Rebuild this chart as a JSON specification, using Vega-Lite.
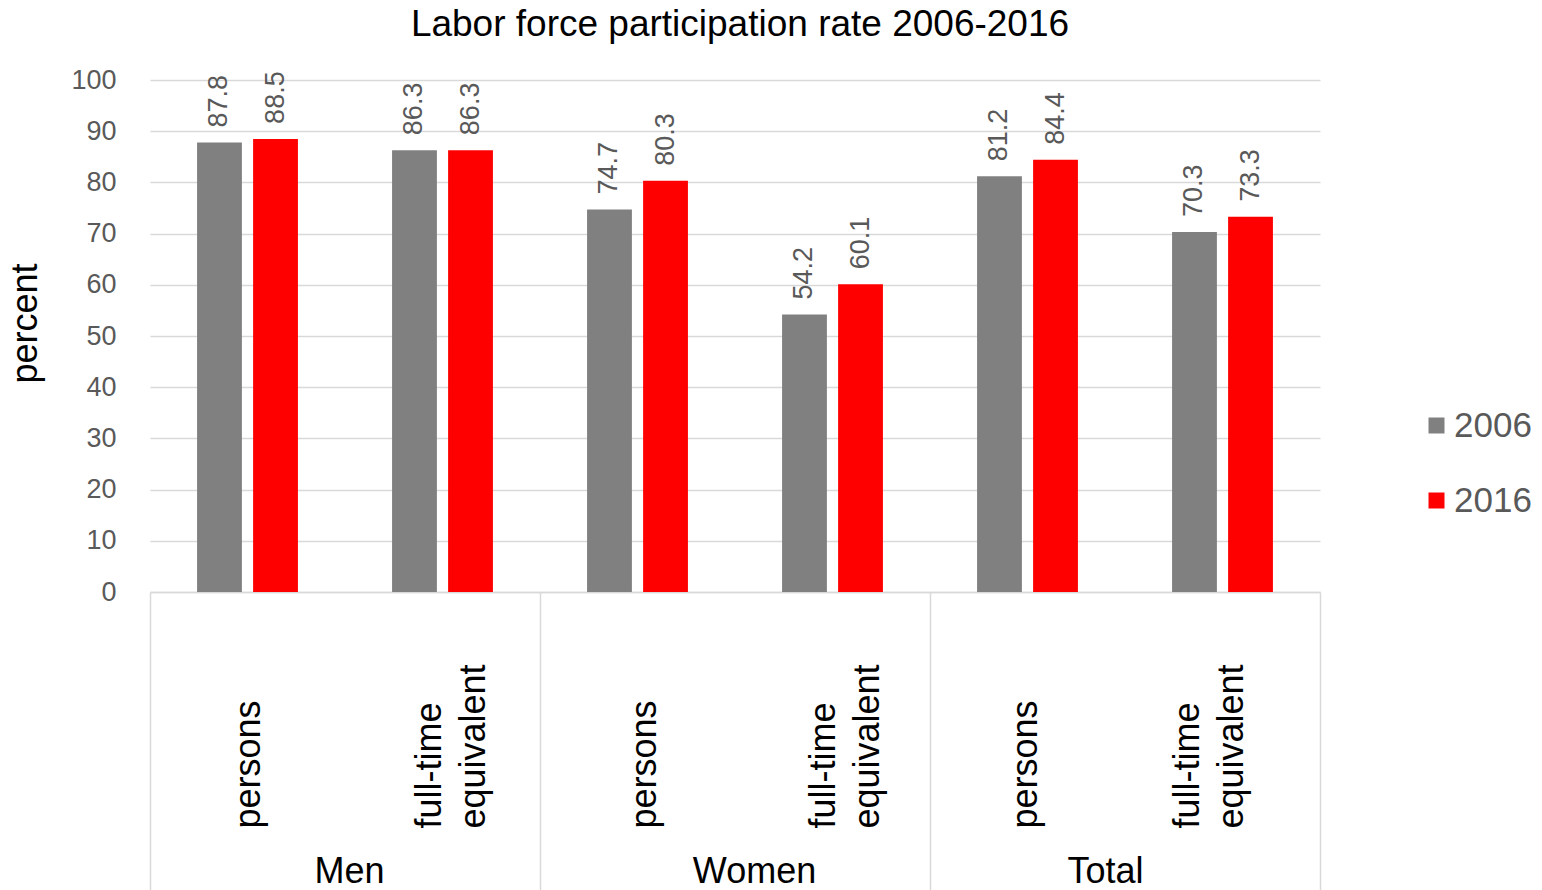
{
  "$schema": "https://vega.github.io/schema/vega-lite/v6.json",
  "width": 1170,
  "height": 512,
  "autosize": {"type": "none"},
  "padding": {"left": 150, "top": 80, "right": 222, "bottom": 298},
  "background": "white",
  "config": {
    "font": "Liberation Sans",
    "view": {"stroke": null}
  },
  "title": {
    "text": "Labor force participation rate 2006-2016",
    "fontSize": 37,
    "fontWeight": "normal",
    "color": "black",
    "anchor": "middle",
    "baseline": "alphabetic",
    "offset": -7,
    "dx": 5
  },
  "data": {
    "values": [
      {"group": "Men", "cat": "Men|persons", "year": "2006", "value": 87.8},
      {"group": "Men", "cat": "Men|persons", "year": "2016", "value": 88.5},
      {"group": "Men", "cat": "Men|full-time equivalent", "year": "2006", "value": 86.3},
      {"group": "Men", "cat": "Men|full-time equivalent", "year": "2016", "value": 86.3},
      {"group": "Women", "cat": "Women|persons", "year": "2006", "value": 74.7},
      {"group": "Women", "cat": "Women|persons", "year": "2016", "value": 80.3},
      {"group": "Women", "cat": "Women|full-time equivalent", "year": "2006", "value": 54.2},
      {"group": "Women", "cat": "Women|full-time equivalent", "year": "2016", "value": 60.1},
      {"group": "Total", "cat": "Total|persons", "year": "2006", "value": 81.2},
      {"group": "Total", "cat": "Total|persons", "year": "2016", "value": 84.4},
      {"group": "Total", "cat": "Total|full-time equivalent", "year": "2006", "value": 70.3},
      {"group": "Total", "cat": "Total|full-time equivalent", "year": "2016", "value": 73.3}
    ]
  },
  "layer": [
    {
      "encoding": {
        "x": {
          "field": "cat",
          "type": "nominal",
          "sort": null,
          "scale": {"paddingInner": 0, "paddingOuter": 0},
          "axis": {
            "orient": "bottom",
            "title": null,
            "labelExpr": "split(datum.value, '|')[1] == 'persons' ? 'persons' : ['full-time', 'equivalent']",
            "labelAngle": -90,
            "labelAlign": "left",
            "labelBaseline": "middle",
            "labelPadding": 236,
            "labelFontSize": 36,
            "labelColor": "black",
            "labelLineHeight": 44,
            "labelLimit": 500,
            "labelOverlap": false,
            "labelOffset": {
              "condition": [
                {"test": "datum.value == 'Men|persons'", "value": 1},
                {"test": "datum.value == 'Men|full-time equivalent'", "value": -13},
                {"test": "datum.value == 'Women|persons'", "value": 7},
                {"test": "datum.value == 'Women|full-time equivalent'", "value": -9},
                {"test": "datum.value == 'Total|persons'", "value": -2}
              ],
              "value": -35
            },
            "ticks": false,
            "tickSize": 0,
            "domain": true,
            "domainColor": "#d9d9d9",
            "domainWidth": 1.5
          }
        },
        "xOffset": {
          "field": "year",
          "type": "nominal",
          "scale": {"paddingInner": 0.2, "paddingOuter": 0.84}
        },
        "y": {
          "field": "value",
          "type": "quantitative",
          "scale": {"domain": [0, 100]},
          "axis": {
            "values": [0, 10, 20, 30, 40, 50, 60, 70, 80, 90, 100],
            "grid": true,
            "gridColor": "#d9d9d9",
            "gridWidth": 1.5,
            "domain": false,
            "ticks": false,
            "labelFontSize": 27,
            "labelColor": "#595959",
            "labelPadding": 34,
            "title": "percent",
            "titleFontSize": 36,
            "titleFontWeight": "normal",
            "titleColor": "black",
            "titlePadding": 26,
            "titleY": 243
          }
        }
      },
      "layer": [
        {
          "mark": {"type": "bar"},
          "encoding": {
            "color": {
              "field": "year",
              "type": "nominal",
              "scale": {"range": ["#808080", "#FF0000"]},
              "legend": {
                "title": null,
                "orient": "none",
                "legendX": 1269,
                "legendY": 328,
                "symbolType": "square",
                "symbolSize": 256,
                "symbolStrokeWidth": 0,
                "labelFontSize": 35,
                "labelColor": "#595959",
                "labelOffset": 0,
                "rowPadding": 39
              }
            }
          }
        },
        {
          "mark": {
            "type": "text",
            "angle": 270,
            "align": "left",
            "baseline": "middle",
            "dx": 15,
            "fontSize": 27,
            "color": "#595959"
          },
          "encoding": {
            "text": {"field": "value", "type": "quantitative", "format": ".1f"}
          }
        }
      ]
    },
    {
      "mark": {"type": "bar", "opacity": 0},
      "encoding": {
        "x": {
          "field": "group",
          "type": "nominal",
          "sort": null,
          "scale": {"paddingInner": 0, "paddingOuter": 0},
          "axis": {
            "orient": "bottom",
            "title": null,
            "labelAngle": 0,
            "labelAlign": "center",
            "labelBaseline": "top",
            "labelFontSize": 36,
            "labelColor": "black",
            "labelPadding": -36,
            "labelOffset": {"condition": [{"test": "datum.value == 'Women'", "value": 19}, {"test": "datum.value == 'Total'", "value": -20}], "value": 4},
            "tickBand": "extent",
            "tickSize": 298,
            "tickColor": "#d9d9d9",
            "tickWidth": 1.5,
            "domain": false
          }
        }
      }
    }
  ],
  "resolve": {"scale": {"x": "independent"}, "axis": {"x": "independent"}}
}
